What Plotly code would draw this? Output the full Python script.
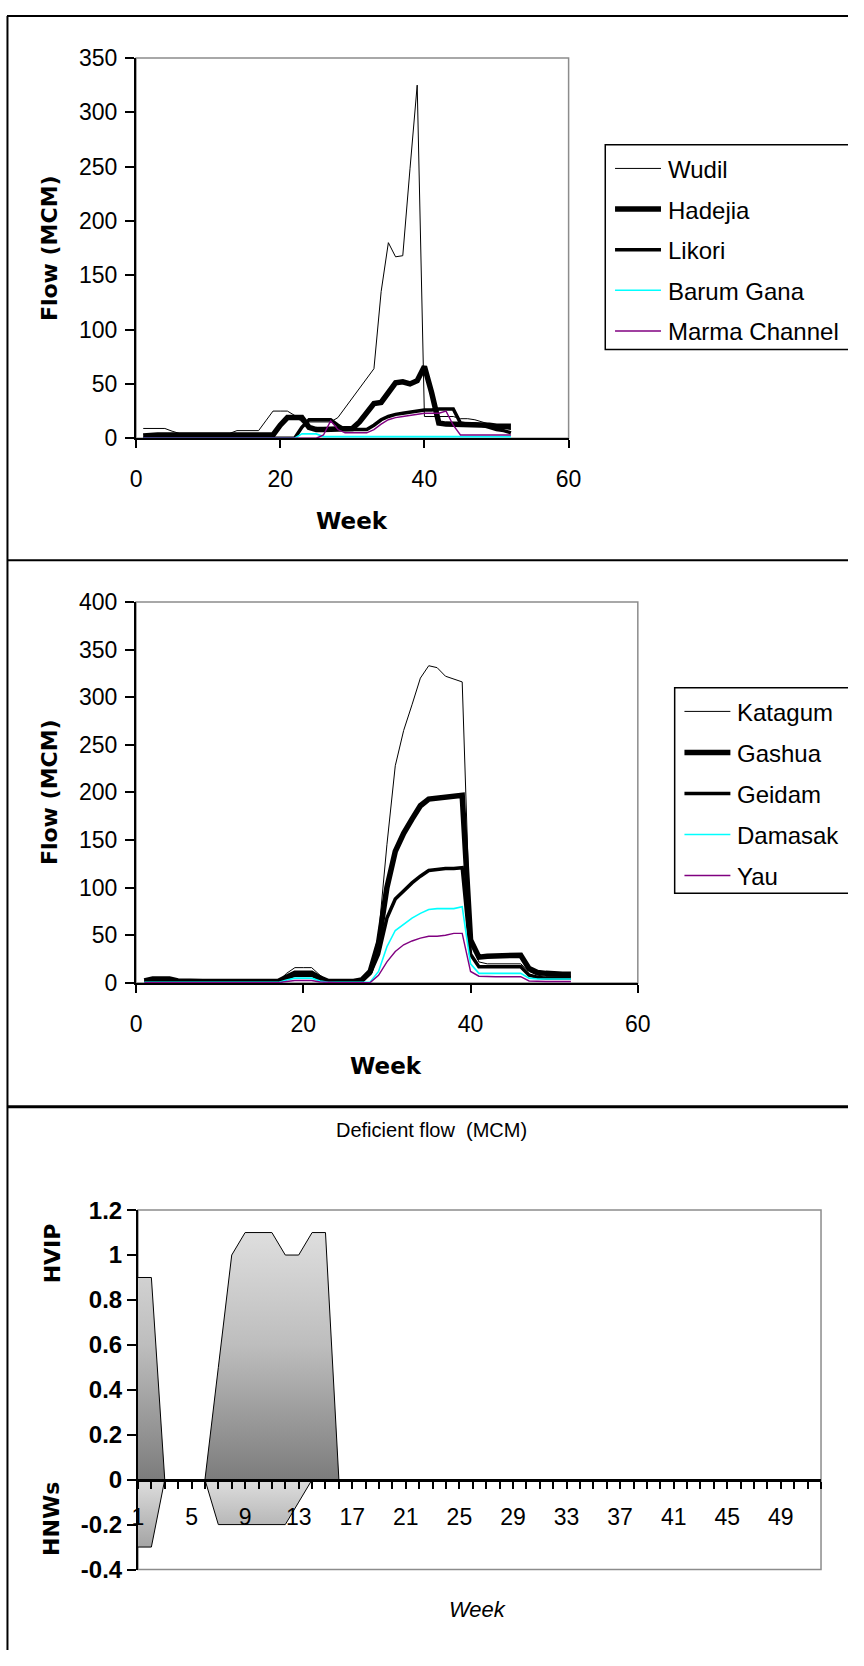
import plotly.graph_objects as go

# page is 864 x 1666; the browser's default 8px body margin surrounds the figure
PAGE_W, PAGE_H, PAGE_MARGIN = 864, 1666, 8
W, H = PAGE_W - 2 * PAGE_MARGIN, PAGE_H - 2 * PAGE_MARGIN

# ---------------------------------------------------------------- data
weeks = list(range(1, 53))

# Upper river gauges (MCM per week)
wudil = [9, 9, 9, 9, 6.5, 4.5, 4.5, 4.5, 4.5, 4.5, 4.5, 4.5, 4.5, 7, 7, 7, 7, 16, 25, 25,
         25, 21, 15, 15, 15, 15, 15, 19, 28, 37, 47, 56, 64, 135, 180, 167, 168, 248, 325, 20,
         20, 20, 20, 20, 18, 18, 17, 15, 13, 11, 9, 8]
hadejia = [2, 3, 3, 3, 3, 3, 3, 3, 3, 3, 3, 3, 3, 3, 3, 3, 3, 3, 3, 12,
           19, 19, 19, 10, 8, 8, 8, 8, 8, 9, 15, 24, 32, 33, 42, 51, 52, 50, 53, 66,
           42, 14, 13, 13, 13, 13, 13, 13, 12, 11, 11, 11]
likori = [0, 0, 0, 0, 0, 0, 0, 0, 0, 0, 0, 0, 0, 0, 0, 0, 0, 0, 0, 0,
          0, 0, 10, 17, 17, 17, 17, 12, 8, 8, 8, 8, 12, 17, 20, 22, 23, 24, 25, 26,
          26, 27, 27, 27, 14, 13, 13, 12, 10, 8, 7, 5]
barum_gana = [0, 0, 0, 0, 0, 0, 0, 0, 0, 0, 0, 0, 0, 0, 0, 0, 0, 0, 0, 0,
              0, 0, 4, 4, 4, 1.5, 1.5, 1.5, 1.5, 1.5, 1.5, 1.5, 1.5, 1.5, 1.5, 1.5, 1.5, 1.5, 1.5, 1.5,
              1.5, 1.5, 1.5, 1.5, 1.5, 1.5, 1.5, 1.5, 1.5, 1.5, 1.5, 1.5]
marma_channel = [0, 0, 0, 0, 0, 0, 0, 0, 0, 0, 0, 0, 0, 0, 0, 0, 0, 0, 0, 0,
                 0, 0, 0, 0, 0, 3, 16, 8, 5, 5, 5, 5, 8, 13, 17, 19, 20, 21, 22, 23,
                 23, 23, 25, 12, 3, 3, 3, 3, 3, 3, 3, 3]

# Lower river gauges (MCM per week)
katagum = [2, 3, 3, 3, 2, 1.5, 1.5, 1.5, 1.5, 1.5, 1.5, 1.5, 1.5, 1.5, 1.5, 1.5, 1.5, 10, 16, 16,
           16, 8, 2, 2, 2, 2, 4, 15, 50, 145, 228, 265, 292, 320, 333, 331, 322, 319, 316, 45,
           22, 20, 20, 20, 20, 20, 12, 8, 7, 7, 7, 7]
gashua = [2, 4, 4, 4, 2, 1.5, 1.5, 1.5, 1.5, 1.5, 1.5, 1.5, 1.5, 1.5, 1.5, 1.5, 1.5, 6, 10, 10,
          10, 5, 1.5, 1.5, 1.5, 1.5, 3, 12, 42, 100, 138, 157, 172, 186, 193, 194, 196, 197, 197, 45,
          27, 28, 28, 29, 29, 29, 15, 11, 10, 9, 9, 9]
geidam = [1, 2, 2, 2, 1, 1, 1, 1, 1, 1, 1, 1, 1, 1, 1, 1, 1, 5, 8, 8,
          8, 4, 1, 1, 1, 1, 2, 10, 30, 68, 88, 97, 105, 112, 118, 119, 120, 120, 121, 30,
          17, 17, 17, 17, 17, 17, 8, 6, 5, 5, 5, 5]
damasak = [0.5, 0.5, 0.5, 0.5, 0.5, 0.5, 0.5, 0.5, 0.5, 0.5, 0.5, 0.5, 0.5, 0.5, 0.5, 0.5, 0.5, 3, 5, 5,
           5, 2, 0.5, 0.5, 0.5, 0.5, 0.5, 1, 12, 38, 55, 62, 68, 73, 77, 78, 78, 78, 80, 20,
           10, 10, 10, 10, 10, 10, 5, 4, 4, 4, 4, 4]
yau = [0.3, 0.3, 0.3, 0.3, 0.3, 0.3, 0.3, 0.3, 0.3, 0.3, 0.3, 0.3, 0.3, 0.3, 0.3, 0.3, 0.3, 1.5, 2.5, 2.5,
       2.5, 1, 0.3, 0.3, 0.3, 0.3, 0.3, 0.3, 8, 22, 33, 40, 44, 47, 49, 49, 50, 52, 52, 12,
       7, 6.5, 6.5, 6.5, 6.5, 6.5, 2, 1.5, 1.5, 1.5, 1.5, 1.5]

# Deficient flow indices
hvip = [0.9, 0.9, 0, 0, 0, 0, 0.5, 1.0, 1.1, 1.1, 1.1, 1.0, 1.0, 1.1, 1.1, 0, 0, 0, 0, 0,
        0, 0, 0, 0, 0, 0, 0, 0, 0, 0, 0, 0, 0, 0, 0, 0, 0, 0, 0, 0,
        0, 0, 0, 0, 0, 0, 0, 0, 0, 0, 0, 0]
hnws = [-0.3, -0.3, 0, 0, 0, 0, -0.2, -0.2, -0.2, -0.2, -0.2, -0.2, -0.1, 0, 0, 0, 0, 0, 0, 0,
        0, 0, 0, 0, 0, 0, 0, 0, 0, 0, 0, 0, 0, 0, 0, 0, 0, 0, 0, 0,
        0, 0, 0, 0, 0, 0, 0, 0, 0, 0, 0, 0]

week_labels = [1, 5, 9, 13, 17, 21, 25, 29, 33, 37, 41, 45, 49]
index_ticks = [-0.4, -0.2, 0, 0.2, 0.4, 0.6, 0.8, 1.0, 1.2]
index_tick_text = ["-0.4", "-0.2", "0", "0.2", "0.4", "0.6", "0.8", "1", "1.2"]


# ---------------------------------------------------------------- helpers
# positions below are given in page pixels and mapped into figure paper space
def fx(px):
    return (px - PAGE_MARGIN) / W


def fy(py):
    return 1 - (py - PAGE_MARGIN) / H


ARIAL = "Liberation Sans, Arial, sans-serif"
VERDANA = "DejaVu Sans, Verdana, sans-serif"
CYAN = "#00FFFF"
PURPLE = "#800080"

fig = go.Figure()

upper = [("Wudil", wudil, "black", 1),
         ("Hadejia", hadejia, "black", 5.5),
         ("Likori", likori, "black", 3.5),
         ("Barum Gana", barum_gana, CYAN, 1.6),
         ("Marma Channel", marma_channel, PURPLE, 1.4)]
for name, vals, color, width in upper:
    fig.add_trace(go.Scatter(x=weeks, y=vals, mode="lines", name=name, showlegend=False,
                             line=dict(color=color, width=width), xaxis="x", yaxis="y"))

lower = [("Katagum", katagum, "black", 1),
         ("Gashua", gashua, "black", 5.5),
         ("Geidam", geidam, "black", 3.5),
         ("Damasak", damasak, CYAN, 1.6),
         ("Yau", yau, PURPLE, 1.4)]
for name, vals, color, width in lower:
    fig.add_trace(go.Scatter(x=weeks, y=vals, mode="lines", name=name, showlegend=False,
                             line=dict(color=color, width=width), xaxis="x2", yaxis="y2"))

fig.add_trace(go.Scatter(
    x=weeks, y=hvip, mode="lines", name="HVIP", showlegend=False,
    line=dict(color="black", width=1), fill="tozeroy",
    fillgradient=dict(type="vertical", start=0, stop=1.1,
                      colorscale=[[0, "#7a7a7a"], [0.55, "#bdbdbd"], [1, "#dedede"]]),
    xaxis="x3", yaxis="y3"))
fig.add_trace(go.Scatter(
    x=weeks, y=hnws, mode="lines", name="HNWs", showlegend=False,
    line=dict(color="black", width=1), fill="tozeroy",
    fillgradient=dict(type="vertical", start=0, stop=-0.4,
                      colorscale=[[0, "#dadada"], [1, "#8c8c8c"]]),
    xaxis="x3", yaxis="y3"))

tick_font = dict(family=ARIAL, size=23, color="black")
base_axis = dict(showline=True, linecolor="black", linewidth=2, ticks="outside",
                 tickcolor="black", tickwidth=1.5, showgrid=False, zeroline=False,
                 tickfont=tick_font)

# panel geometry (page pixels)
p1 = dict(x0=141, x1=583.5, top=52.7, bottom=439.3)
p2 = dict(x0=141, x1=654.3, top=605.7, bottom=993.0)
p3 = dict(x0=143, x1=841.7, top=1224.0, bottom=1589.4)

y3_range = [-0.4, 1.2]
y3_dom = [fy(p3["bottom"]), fy(p3["top"])]
zero_pos = y3_dom[0] + (0 - y3_range[0]) / (y3_range[1] - y3_range[0]) * (y3_dom[1] - y3_dom[0])

fig.update_layout(
    width=W, height=H, margin=dict(l=0, r=0, t=0, b=0),
    paper_bgcolor="white", plot_bgcolor="white", showlegend=False,
    xaxis=dict(base_axis, domain=[fx(p1["x0"]), fx(p1["x1"])], anchor="y",
               range=[0, 60], tickvals=[0, 20, 40, 60], ticklen=8, ticklabelstandoff=11),
    yaxis=dict(base_axis, domain=[fy(p1["bottom"]), fy(p1["top"])], anchor="x",
               range=[0, 350], dtick=50, ticklen=9, ticklabelstandoff=3),
    xaxis2=dict(base_axis, domain=[fx(p2["x0"]), fx(p2["x1"])], anchor="y2",
                range=[0, 60], tickvals=[0, 20, 40, 60], ticklen=8, ticklabelstandoff=12),
    yaxis2=dict(base_axis, domain=[fy(p2["bottom"]), fy(p2["top"])], anchor="x2",
                range=[0, 400], dtick=50, ticklen=9, ticklabelstandoff=3),
    xaxis3=dict(base_axis, domain=[fx(p3["x0"]), fx(p3["x1"])], anchor="free",
                position=zero_pos, linewidth=3, range=[1, 52],
                tickvals=week_labels, ticklen=7,
                tickfont=dict(family=ARIAL, size=23, color="black"), ticklabelstandoff=9,
                minor=dict(ticks="outside", tick0=1, dtick=1, ticklen=7,
                           tickcolor="black", tickwidth=1.5)),
    yaxis3=dict(base_axis, domain=y3_dom, anchor="x3", range=y3_range,
                tickvals=index_ticks, ticktext=index_tick_text, ticklen=9,
                tickfont=dict(family=ARIAL, size=24, color="black", weight="bold"),
                ticklabelstandoff=0),
)

# grey plot-area frames
for xr, yr in [("x", "y"), ("x2", "y2"), ("x3", "y3")]:
    fig.add_shape(type="rect", xref=f"{xr} domain", yref=f"{yr} domain",
                  x0=0, x1=1, y0=0, y1=1, line=dict(color="#8c8c8c", width=1.5),
                  layer="below")

# panel borders
border = [
    dict(x0=fx(9.5), x1=fx(9.5), y0=fy(10), y1=fy(PAGE_H + 20), w=2),
    dict(x0=fx(9), x1=fx(PAGE_W + 20), y0=fy(10), y1=fy(10), w=2),
    dict(x0=fx(9), x1=fx(PAGE_W + 20), y0=fy(563.3), y1=fy(563.3), w=2),
    dict(x0=fx(9), x1=fx(PAGE_W + 20), y0=fy(1119), y1=fy(1119), w=3),
]
for b in border:
    fig.add_shape(type="line", xref="paper", yref="paper", x0=b["x0"], x1=b["x1"],
                  y0=b["y0"], y1=b["y1"], line=dict(color="black", width=b["w"]))


# boxed legends (key line + series name), one per flow panel
def draw_legend(series, left, top, bottom, first_row, row_gap):
    fig.add_shape(type="rect", xref="paper", yref="paper",
                  x0=fx(left), x1=fx(PAGE_W + 30), y0=fy(bottom), y1=fy(top),
                  line=dict(color="black", width=1.5), fillcolor="white", layer="above")
    for i, (name, _vals, color, width) in enumerate(series):
        row = first_row + i * row_gap
        fig.add_shape(type="line", xref="paper", yref="paper",
                      x0=fx(left + 10), x1=fx(left + 57), y0=fy(row), y1=fy(row),
                      line=dict(color=color, width=width), layer="above")
        fig.add_annotation(text=name, x=fx(left + 62), y=fy(row + 1), xref="paper", yref="paper",
                           xanchor="left", yanchor="middle", showarrow=False,
                           font=dict(family=ARIAL, size=24, color="black"))


draw_legend(upper, 621, 141, 349, 165, 41.3)
draw_legend(lower, 692, 693, 902, 717, 41.7)

bold_title = dict(family=VERDANA, size=22, color="black", weight="bold")
labels = [
    ("Flow (MCM)", 52, 246, -90, bold_title),
    ("Flow (MCM)", 52, 799, -90, bold_title),
    ("Week", 362, 523, 0, dict(bold_title, size=23)),
    ("Week", 397, 1077, 0, dict(bold_title, size=23)),
    ("Deficient flow\u00a0 (MCM)", 443, 1143, 0, dict(family=ARIAL, size=20, color="black")),
    ("HVIP", 55, 1268, -90, bold_title),
    ("HNWs", 55, 1538, -90, bold_title),
    ("Week", 490, 1630, 0, dict(family=ARIAL, size=22, color="black", style="italic")),
]
for text, px, py, ang, font in labels:
    fig.add_annotation(text=text, x=fx(px), y=fy(py), xref="paper", yref="paper",
                       xanchor="center", yanchor="middle", textangle=ang,
                       showarrow=False, font=font)

fig.write_html("out.html")
